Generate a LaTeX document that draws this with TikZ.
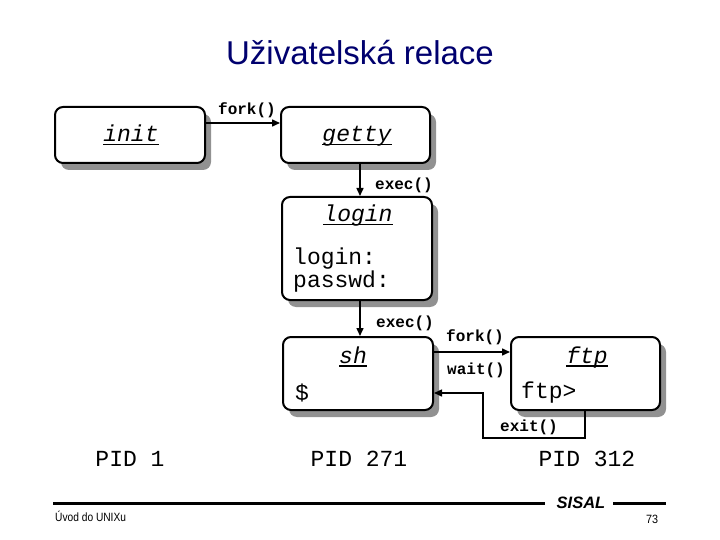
\documentclass[tikz,border=0pt]{standalone}
\usepackage{fontspec}
\setmainfont{Liberation Sans}
\newfontfamily\mono{Liberation Mono}
\usetikzlibrary{arrows.meta,shadows}
\definecolor{titleblue}{RGB}{0,0,110}
\definecolor{shadowgray}{RGB}{145,145,145}
\newcommand\ulbox[1]{\setbox0\hbox{#1}\rlap{\copy0}\rule[-3.5pt]{\wd0}{1.4pt}}
\begin{document}
\begin{tikzpicture}[x=1pt,y=-1pt,
  procbox/.style={draw, line width=2pt, rounded corners=8pt, fill=white,
    drop shadow={shadow xshift=6pt, shadow yshift=-7pt, fill=shadowgray, opacity=1},
    inner sep=0pt},
  ptitle/.style={anchor=base, font=\mono\itshape\fontsize{23}{23}\selectfont},
  ptext/.style={anchor=base west, font=\mono\fontsize{23}{23}\selectfont, inner sep=0pt},
  call/.style={font=\mono\bfseries\fontsize{16}{16}\selectfont, inner sep=0pt},
  pid/.style={anchor=base, font=\mono\fontsize{23}{23}\selectfont},
  arr/.style={line width=1.5pt, -{Triangle[length=8pt,width=7pt]}},
  rulel/.style={line width=3pt}
]
\useasboundingbox (0,0) rectangle (720,540);

% title
\node[anchor=base, text=titleblue, font=\fontsize{33}{33}\selectfont] (title) at (360,65) {Uživatelská relace};

% boxes
\node[procbox, minimum width=150pt, minimum height=56pt] (init) at (130,135) {};
\node[procbox, minimum width=149pt, minimum height=56pt] (getty) at (355.5,135) {};
\node[procbox, minimum width=150pt, minimum height=103pt] (login) at (357,248.5) {};
\node[procbox, minimum width=150pt, minimum height=73pt] (sh) at (358,373.5) {};
\node[procbox, minimum width=149pt, minimum height=73pt] (ftp) at (585.5,373.5) {};

% box texts
\node[ptitle] (tinit) at (131,142) {\ulbox{init}};
\node[ptitle] (tgetty) at (357,142) {\ulbox{getty}};
\node[ptitle] (tlogin) at (358,222) {\ulbox{login}};
\node[ptext] (prompt1) at (293,264) {login:};
\node[ptext] (prompt2) at (293,287) {passwd:};
\node[ptitle] (tsh) at (353,363) {\ulbox{sh}};
\node[ptext] (dollar) at (295,400) {\$};
\node[ptitle] (tftp) at (587,363) {\ulbox{ftp}};
\node[ptext] (ftpprompt) at (521,398) {ftp>};

% helper coordinates
\coordinate (vx) at (360,0);
\coordinate (y1) at (0,123);
\coordinate (y2) at (0,352);
\coordinate (y3) at (0,393);
\coordinate (ex) at (585,0);
\coordinate (c1) at (585,438);
\coordinate (c2) at (483,438);
\coordinate (c3) at (483,393);

% connectors
\draw[arr] (init.east |- y1) -- (getty.west |- y1);
\draw[arr] (getty.south -| vx) -- (login.north -| vx);
\draw[arr] (login.south -| vx) -- (sh.north -| vx);
\draw[arr] (sh.east |- y2) -- (ftp.west |- y2);
\draw[arr] (ftp.south -| ex) -- (c1) -- (c2) -- (c3) -- (sh.east |- y3);

% call labels
\node[call] (lfork1) at (247,110) {fork()};
\node[call] (lexec1) at (404,185) {exec()};
\node[call] (lexec2) at (405,323) {exec()};
\node[call] (lfork2) at (475,337) {fork()};
\node[call] (lwait) at (476,370) {wait()};
\node[call] (lexit) at (529,427) {exit()};

% PIDs
\node[pid] (pid1) at (130,466) {PID 1};
\node[pid] (pid2) at (359,466) {PID 271};
\node[pid] (pid3) at (587,466) {PID 312};

% footer
\coordinate (fl1) at (53,503);
\coordinate (fl2) at (545,503);
\coordinate (fl3) at (613,503);
\coordinate (fl4) at (666,503);
\draw[rulel] (fl1) -- (fl2);
\draw[rulel] (fl3) -- (fl4);
\node[font=\bfseries\itshape\fontsize{16.5}{16.5}\selectfont, inner sep=0pt] (sisal) at (581,503) {SISAL};
\node[anchor=base west, font=\fontsize{12}{12}\selectfont, inner sep=0pt] (uvod) at (55,521) {\scalebox{0.85}[1]{Úvod do UNIXu}};
\node[anchor=base, font=\fontsize{12}{12}\selectfont, inner sep=0pt] (page) at (652,523) {\scalebox{0.9}[1]{73}};
\end{tikzpicture}
\end{document}
